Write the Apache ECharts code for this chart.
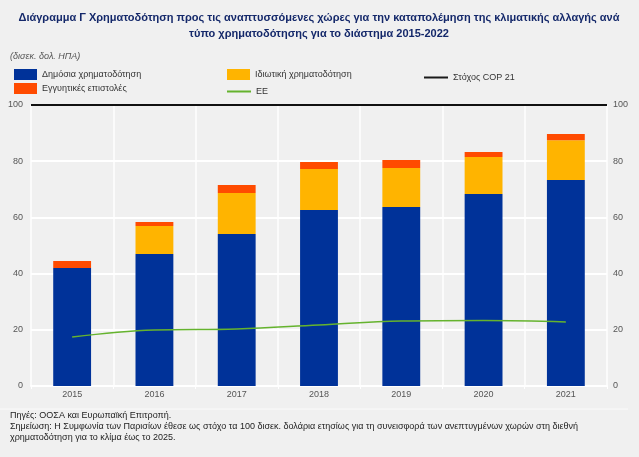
<!DOCTYPE html>
<html>
<head>
<meta charset="utf-8">
<script src="https://cdn.jsdelivr.net/npm/echarts@6/dist/echarts.min.js"></script>
<style>
  html, body { margin: 0; padding: 0; background: #f0f0f0; }
  #chart { width: 639px; height: 457px; }
</style>
</head>
<body>
<div id="chart"></div>
<script>
// data (δισεκ. δολ. ΗΠΑ)
const years = ['2015', '2016', '2017', '2018', '2019', '2020', '2021'];
const publicFinance = [42.0, 47.0, 54.1, 62.6, 63.7, 68.3, 73.3];
const privateFinance = [0, 9.9, 14.6, 14.6, 13.9, 13.2, 14.2];
const exportCredits = [2.5, 1.5, 2.8, 2.5, 2.8, 1.8, 2.2];
const euFinance = [17.4, 19.9, 20.3, 21.7, 23.1, 23.3, 22.8];
const copTarget = 100;

const names = {
    pub: 'Δημόσια χρηματοδότηση',
    priv: 'Ιδιωτική χρηματοδότηση',
    cop: 'Στόχος COP 21',
    exp: 'Εγγυητικές επιστολές',
    eu: 'ΕΕ'
};

const font = 'Liberation Sans, Arial, sans-serif';
const txt = { fontFamily: font, fontSize: 9, color: '#333' };

const legendItem = (name, left, top, opts) => Object.assign({
    data: [name],
    left: left,
    top: top,
    icon: 'rect',
    itemGap: 4,
    padding: 0,
    itemWidth: 23,
    itemHeight: 11,
    textStyle: txt,
    selectedMode: false
}, opts || {});

const lineIcon = 'path://M0,0L24,0L24,2L0,2Z';

const chart = echarts.init(document.getElementById('chart'));
const option = {
    backgroundColor: '#f0f0f0',
    animation: false,
    legend: [
        legendItem(names.pub, 14, 69),
        legendItem(names.exp, 14, 83),
        legendItem(names.priv, 227, 69),
        legendItem(names.eu, 227, 87, { icon: lineIcon, itemWidth: 24, itemHeight: 2 }),
        legendItem(names.cop, 424, 73, { icon: lineIcon, itemWidth: 24, itemHeight: 2 })
    ],
    graphic: [
        { type: 'text', x: 319, y: 10, style: {
            text: 'Διάγραμμα Γ Χρηματοδότηση προς τις αναπτυσσόμενες χώρες για την καταπολέμηση της κλιματικής αλλαγής ανά\nτύπο χρηματοδότησης για το διάστημα 2015-2022',
            align: 'center', font: 'bold 11px ' + font, fill: '#14286a', lineHeight: 16 } },
        { type: 'text', left: 10, top: 52, style: { text: '(δισεκ. δολ. ΗΠΑ)', font: 'italic 9px ' + font, fill: '#555' } },
        { type: 'line', shape: { x1: 0, y1: 409, x2: 628, y2: 409 }, style: { stroke: '#fbfbfb', lineWidth: 1 } },
        { type: 'text', left: 10, top: 410, style: {
            text: 'Πηγές: ΟΟΣΑ και Ευρωπαϊκή Επιτροπή.\nΣημείωση: Η Συμφωνία των Παρισίων έθεσε ως στόχο τα 100 δισεκ. δολάρια ετησίως για τη συνεισφορά των ανεπτυγμένων χωρών στη διεθνή\nχρηματοδότηση για το κλίμα έως το 2025.',
            font: '9px ' + font, fill: '#222', lineHeight: 11 } }
    ],
    grid: { left: 31, right: 32, top: 105, bottom: 71, containLabel: false },
    xAxis: {
        type: 'category',
        data: years,
        axisLine: { lineStyle: { color: '#ffffff', width: 2 } },
        axisTick: { show: true, alignWithLabel: false, length: 3, lineStyle: { color: '#ffffff' } },
        axisLabel: { fontFamily: font, fontSize: 9, color: '#555', margin: 4 },
        splitLine: { show: true, lineStyle: { color: '#ffffff', width: 1.5 } }
    },
    yAxis: [
        {
            type: 'value', min: 0, max: 100, interval: 20,
            axisLine: { show: false }, axisTick: { show: false },
            axisLabel: { fontFamily: font, fontSize: 9, color: '#555', margin: 8 },
            splitLine: { lineStyle: { color: '#ffffff', width: 2 } }
        },
        {
            type: 'value', min: 0, max: 100, interval: 20, position: 'right',
            axisLine: { show: false }, axisTick: { show: false },
            axisLabel: { fontFamily: font, fontSize: 9, color: '#555', margin: 6 },
            splitLine: { show: false }
        }
    ],
    series: [
        { name: names.pub, type: 'bar', stack: 'total', data: publicFinance, barWidth: '46%',
          itemStyle: { color: '#003299' } },
        { name: names.priv, type: 'bar', stack: 'total', data: privateFinance,
          itemStyle: { color: '#ffb400' } },
        { name: names.exp, type: 'bar', stack: 'total', data: exportCredits,
          itemStyle: { color: '#ff4b00' } },
        { name: names.eu, type: 'line', data: euFinance, smooth: 0.4, symbol: 'none',
          itemStyle: { color: '#65b32e' }, lineStyle: { color: '#65b32e', width: 1.5 }, z: 5 },
        { name: names.cop, type: 'line', data: [], symbol: 'none',
          itemStyle: { color: '#1a1a1a' }, lineStyle: { color: '#1a1a1a' },
          markLine: { silent: true, symbol: 'none', label: { show: false },
            lineStyle: { color: '#111', width: 2, type: 'solid' },
            data: [{ yAxis: copTarget }] } }
    ]
};
chart.setOption(option);
</script>
</body>
</html>
